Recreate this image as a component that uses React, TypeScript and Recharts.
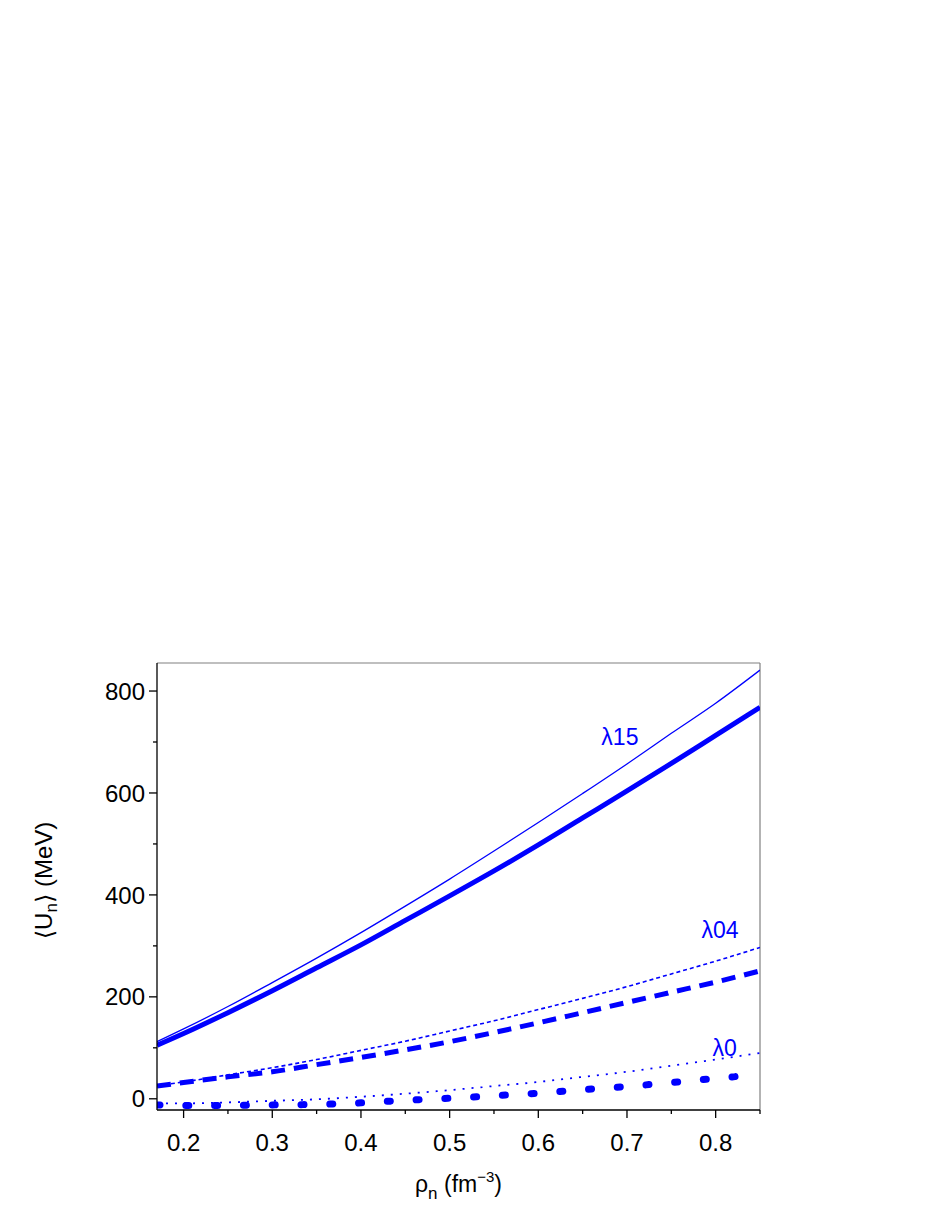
import { LineChart, Line, XAxis, YAxis, ReferenceLine, ReferenceDot } from 'recharts'

// neutron density (fm^-3)
const rho = [0.17, 0.2, 0.25, 0.3, 0.35, 0.4, 0.45, 0.5, 0.55, 0.6, 0.65, 0.7, 0.75, 0.8, 0.85]

// <U_n> (MeV)
const l15Thin = [112, 137, 181, 228, 276, 326, 378, 431, 486, 542, 599, 657, 717, 776, 841]
const l15Thick = [105, 128, 169, 212, 257, 302, 350, 398, 447, 498, 551, 604, 658, 713, 768]
const l04Thin = [26, 33, 47, 61, 77, 95, 113, 133, 153, 175, 197, 220, 245, 270, 297]
const l04Thick = [25, 32, 43, 53, 67, 81, 96, 112, 130, 149, 169, 189, 209, 229, 251]
const l0Thin = [-9, -9, -7, -4, -1, 4, 10, 17, 25, 33, 43, 53, 65, 77, 90]

const rhoL0Thick = [0.17, 0.2, 0.25, 0.3, 0.35, 0.4, 0.45, 0.5, 0.55, 0.6, 0.65, 0.7, 0.75, 0.8, 0.825]
const l0Thick = [-12, -13, -13, -12, -11, -8, -3, 1, 6, 11, 18, 24, 32, 40, 44]

const xTicks = [0.2, 0.25, 0.3, 0.35, 0.4, 0.45, 0.5, 0.55, 0.6, 0.65, 0.7, 0.75, 0.8, 0.85]
const yTicks = [0, 100, 200, 300, 400, 500, 600, 700, 800]

const curveLabels = [
  { text: 'λ15', x: 0.692, y: 710 },
  { text: 'λ04', x: 0.805, y: 331 },
  { text: 'λ0', x: 0.81, y: 100 },
]

const data = rho.map((r, i) => ({
  rho: r,
  l15Thin: l15Thin[i],
  l15Thick: l15Thick[i],
  l04Thin: l04Thin[i],
  l04Thick: l04Thick[i],
  l0Thin: l0Thin[i],
}))
const dataL0Thick = rhoL0Thick.map((r, i) => ({ rho: r, l0Thick: l0Thick[i] }))

const BLUE = '#0000ff'
const FONT = '"Liberation Sans", Arial, sans-serif'

function XTick(props: any) {
  const { x, y, payload } = props
  const v = payload.value
  const major = Math.abs(v * 10 - Math.round(v * 10)) < 1e-6
  return (
    <g>
      <line x1={x} x2={x} y1={y} y2={y + (major ? 8 : 4)} stroke="#000" strokeWidth={1.3} />
      {major && (
        <text x={x} y={y + 41} textAnchor="middle" fontSize={24} fontFamily={FONT} fill="#000">
          {v.toFixed(1)}
        </text>
      )}
    </g>
  )
}

function YTick(props: any) {
  const { x, y, payload } = props
  const v = payload.value
  const major = v % 200 === 0
  return (
    <g>
      <line x1={x} x2={x - (major ? 8 : 4)} y1={y} y2={y} stroke="#000" strokeWidth={1.3} />
      {major && (
        <text x={x - 12} y={y} dy="0.36em" textAnchor="end" fontSize={24} fontFamily={FONT} fill="#000">
          {v}
        </text>
      )}
    </g>
  )
}

export default function App() {
  return (
    <div style={{ width: 920, height: 1200 }}>
      <LineChart
        width={920}
        height={1200}
        data={data}
        margin={{ top: 655, right: 168, bottom: 38, left: 69 }}
      >
        <XAxis
          dataKey="rho"
          type="number"
          domain={[0.17, 0.85]}
          ticks={xTicks}
          interval={0}
          allowDataOverflow
          height={60}
          tickSize={0}
          tickMargin={0}
          tickLine={false}
          tick={<XTick />}
          axisLine={{ stroke: '#000', strokeWidth: 1.3 }}
          label={{
            position: 'bottom',
            content: (p: any) => {
              const vb = p.viewBox
              return (
                <text x={vb.x + vb.width / 2} y={vb.y + 82} textAnchor="middle" fontSize={23} fontFamily={FONT} fill="#000">
                  ρ<tspan dy={7} fontSize={17}>n</tspan>
                  <tspan dy={-7}>{'  (fm'}</tspan>
                  <tspan dy={-10} fontSize={15}>−3</tspan>
                  <tspan dy={10}>)</tspan>
                </text>
              )
            },
          }}
        />
        <YAxis
          type="number"
          domain={[-22, 855]}
          ticks={yTicks}
          interval={0}
          allowDataOverflow
          width={80}
          tickSize={0}
          tickMargin={0}
          tickLine={false}
          tick={<YTick />}
          axisLine={{ stroke: '#000', strokeWidth: 1.3 }}
          label={{
            position: 'left',
            content: (p: any) => {
              const vb = p.viewBox
              const cx = 38
              const cy = vb.y + vb.height / 2 - 6
              return (
                <text
                  x={cx}
                  y={cy}
                  transform={`rotate(-90 ${cx} ${cy})`}
                  textAnchor="middle"
                  dominantBaseline="middle"
                  fontSize={24}
                  fontFamily={FONT}
                  fill="#000"
                >
                  <tspan fontFamily='"DejaVu Sans", sans-serif'>⟨</tspan>U<tspan dy={7} fontSize={17}>n</tspan>
                  <tspan dy={-7} fontFamily='"DejaVu Sans", sans-serif'>⟩</tspan>
                  <tspan> (MeV)</tspan>
                </text>
              )
            },
          }}
        />
        <ReferenceLine y={855} stroke="#808080" strokeWidth={1.2} />
        <ReferenceLine x={0.85} stroke="#808080" strokeWidth={1.2} />

        <Line dataKey="l15Thin" type="monotone" stroke={BLUE} strokeWidth={1.3} dot={false} isAnimationActive={false} />
        <Line dataKey="l15Thick" type="monotone" stroke={BLUE} strokeWidth={5} dot={false} isAnimationActive={false} />
        <Line dataKey="l04Thin" type="monotone" stroke={BLUE} strokeWidth={1.6} strokeDasharray="4 3" dot={false} isAnimationActive={false} />
        <Line dataKey="l04Thick" type="monotone" stroke={BLUE} strokeWidth={5} strokeDasharray="14 9" dot={false} isAnimationActive={false} />
        <Line dataKey="l0Thin" type="monotone" stroke={BLUE} strokeWidth={1.8} strokeDasharray="2 7" dot={false} isAnimationActive={false} />
        <Line
          data={dataL0Thick}
          dataKey="l0Thick"
          type="monotone"
          stroke={BLUE}
          strokeWidth={7}
          strokeLinecap="round"
          strokeDasharray="3 25.8"
          dot={false}
          isAnimationActive={false}
        />

        {curveLabels.map((c) => (
          <ReferenceDot
            key={c.text}
            x={c.x}
            y={c.y}
            r={0}
            fill="none"
            stroke="none"
            label={{
              content: (p: any) => {
                const vb = p.viewBox
                const cx = vb.x + (vb.width || 0) / 2
                const cy = vb.y + (vb.height || 0) / 2
                return (
                  <text x={cx} y={cy} dy="0.36em" textAnchor="middle" fontSize={23} fontFamily={FONT} fill={BLUE}>
                    {c.text}
                  </text>
                )
              },
            }}
          />
        ))}
      </LineChart>
    </div>
  )
}
